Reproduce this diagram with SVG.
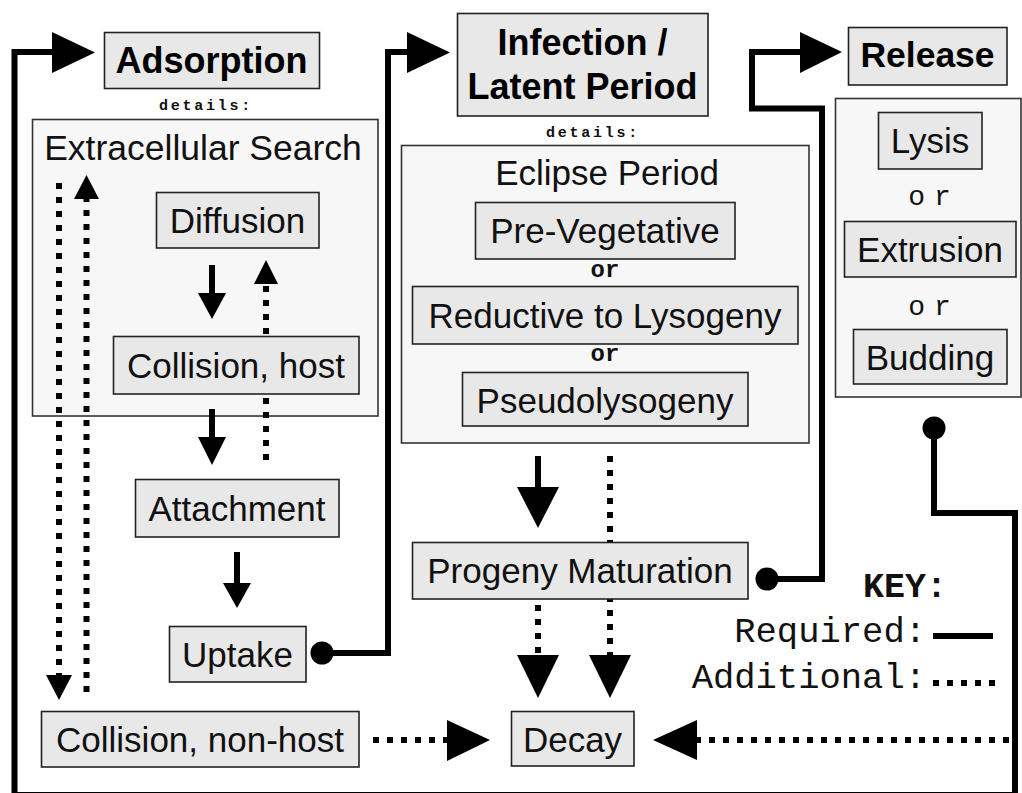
<svg xmlns="http://www.w3.org/2000/svg" width="1022" height="793" viewBox="0 0 1022 793">
<style>
.node rect{fill:#e8e8e8;stroke:#222;stroke-width:1.6}
.panel{fill:#f7f7f7;stroke:#333;stroke-width:1.6}
.t{font-family:"Liberation Sans",Arial,sans-serif;font-size:35px;fill:#111;text-anchor:middle}
.b{font-family:"Liberation Sans",Arial,sans-serif;font-size:36px;font-weight:bold;fill:#000;text-anchor:middle}
.m{font-family:"Liberation Mono","Courier New",monospace;fill:#111}
.det{font-size:15px;font-weight:bold;letter-spacing:2.75px;text-anchor:middle}
.or{font-size:24px;font-weight:bold;text-anchor:middle}
.or2{font-size:28px;letter-spacing:9px;text-anchor:middle}
.req{fill:none;stroke:#000;stroke-width:6}
.add{fill:none;stroke:#000;stroke-width:6;stroke-dasharray:6 8}
.head{fill:#000}
</style>

<g id="extracellular-search">
  <rect class="panel" x="32.5" y="119.5" width="345.5" height="296.5"/>
  <text class="t" x="203" y="160" style="font-size:35.5px">Extracellular Search</text>
</g>
<g id="eclipse-period">
  <rect class="panel" x="401.5" y="145.5" width="407.5" height="297.5"/>
  <text class="t" x="607" y="185">Eclipse Period</text>
</g>
<g id="release-details">
  <rect class="panel" x="835.5" y="98.5" width="185.5" height="298.5"/>
</g>

<g id="connectors">
  <!-- cycle loop: Release -> Adsorption -->
  <path class="req" d="M934,428 V513 H1015 V795 H14.5 V52 H54"/>
  <polygon class="head" points="52,32 95,52.5 52,73"/>
  <circle cx="934" cy="428" r="11.5" fill="#000"/>
  <!-- Uptake -> Infection -->
  <path class="req" d="M322,653 H388 V52 H409"/>
  <polygon class="head" points="407,32 450,52.5 407,73"/>
  <circle cx="322" cy="653" r="11.5" fill="#000"/>
  <!-- Progeny -> Release -->
  <path class="req" d="M767,579 H822 V108.5 H752 V52 H802"/>
  <polygon class="head" points="800,32 842,52 800,73"/>
  <circle cx="767" cy="579" r="11.5" fill="#000"/>
  <!-- Diffusion -> Collision host -->
  <path class="req" d="M212,265 V295"/>
  <polygon class="head" points="198,293 226,293 212,319"/>
  <!-- Collision host -> Attachment -->
  <path class="req" d="M212,409 V439"/>
  <polygon class="head" points="198,437 226,437 212,465"/>
  <!-- Attachment -> Uptake -->
  <path class="req" d="M237,552 V585"/>
  <polygon class="head" points="223,583 251,583 237,608"/>
  <!-- Eclipse -> Progeny -->
  <path class="req" d="M538,456 V489"/>
  <polygon class="head" points="517,487 559,487 538,528"/>
  <!-- Collision host -> Diffusion (additional) -->
  <path class="add" d="M266,460 V283"/>
  <polygon class="head" points="254,284 278,284 266,260"/>
  <!-- left dotted down -->
  <path class="add" d="M59,183 V675"/>
  <polygon class="head" points="46,675 72,675 59,700"/>
  <!-- left dotted up -->
  <path class="add" d="M86.5,692 V198"/>
  <polygon class="head" points="74,199 99,199 86.5,175"/>
  <!-- Eclipse -> Decay (additional) -->
  <path class="add" d="M610,456 V655"/>
  <polygon class="head" points="589,655 631,655 610,698"/>
  <!-- Progeny -> Decay -->
  <path class="add" d="M538,605 V655"/>
  <polygon class="head" points="517,655 559,655 538,698"/>
  <!-- Collision non-host -> Decay -->
  <path class="add" d="M373,740 H447"/>
  <polygon class="head" points="447,720 490,740 447,761"/>
  <!-- loop -> Decay -->
  <path class="add" d="M1009,740 H695"/>
  <polygon class="head" points="697,720 653,740 697,760"/>
</g>

<g id="adsorption" class="node">
  <rect x="104.5" y="32.5" width="215" height="56"/>
  <text class="b" x="211.5" y="73">Adsorption</text>
</g>
<text class="m det" x="206" y="110">details:</text>

<g id="diffusion" class="node">
  <rect x="156.5" y="192.5" width="162.5" height="55.5"/>
  <text class="t" x="237.5" y="233">Diffusion</text>
</g>
<g id="collision-host" class="node">
  <rect x="113.5" y="336.5" width="245.5" height="57.5"/>
  <text class="t" x="236" y="378">Collision, host</text>
</g>
<g id="attachment" class="node">
  <rect x="135.5" y="479.5" width="203.5" height="57.5"/>
  <text class="t" x="237" y="521">Attachment</text>
</g>
<g id="uptake" class="node">
  <rect x="169.5" y="626.5" width="136.5" height="55.5"/>
  <text class="t" x="237.5" y="667">Uptake</text>
</g>
<g id="collision-nonhost" class="node">
  <rect x="41.5" y="711.5" width="317.5" height="55.5"/>
  <text class="t" x="200" y="752">Collision, non-host</text>
</g>

<g id="infection" class="node">
  <rect x="457.5" y="13.5" width="250.5" height="102.5"/>
  <text class="b" x="582.5" y="55">Infection /</text>
  <text class="b" x="582.5" y="99">Latent Period</text>
</g>
<text class="m det" x="593" y="137">details:</text>

<g id="pre-vegetative" class="node">
  <rect x="475.5" y="202.5" width="259.5" height="56.5"/>
  <text class="t" x="605" y="243">Pre-Vegetative</text>
</g>
<text class="m or" x="605" y="277">or</text>
<g id="reductive" class="node">
  <rect x="412.5" y="286.5" width="385.5" height="57.5"/>
  <text class="t" x="605" y="328">Reductive to Lysogeny</text>
</g>
<text class="m or" x="605" y="361">or</text>
<g id="pseudolysogeny" class="node">
  <rect x="462.5" y="372.5" width="285.5" height="53.5"/>
  <text class="t" x="605" y="413">Pseudolysogeny</text>
</g>

<g id="progeny-maturation" class="node">
  <rect x="412.5" y="542.5" width="335.5" height="56.5"/>
  <text class="t" x="580" y="583">Progeny Maturation</text>
</g>
<g id="decay" class="node">
  <rect x="511.5" y="711.5" width="122.5" height="54.5"/>
  <text class="t" x="572.5" y="752">Decay</text>
</g>

<g id="release" class="node">
  <rect x="848.5" y="27.5" width="158.5" height="57.5"/>
  <text class="b" x="927.5" y="67" style="font-size:35.5px">Release</text>
</g>
<g id="lysis" class="node">
  <rect x="878.5" y="112.5" width="103.5" height="56.5"/>
  <text class="t" x="930" y="153">Lysis</text>
</g>
<text class="m or2" x="934" y="205">or</text>
<g id="extrusion" class="node">
  <rect x="844.5" y="221.5" width="171.5" height="55.5"/>
  <text class="t" x="930" y="262">Extrusion</text>
</g>
<text class="m or2" x="934" y="315">or</text>
<g id="budding" class="node">
  <rect x="853.5" y="329.5" width="153.5" height="54.5"/>
  <text class="t" x="930" y="370">Budding</text>
</g>

<g id="key">
  <text class="m" x="947" y="597" style="font-size:35px;font-weight:bold;text-anchor:end">KEY:</text>
  <text class="m" x="926" y="642" style="font-size:35.5px;text-anchor:end">Required:</text>
  <text class="m" x="926" y="688" style="font-size:35.5px;text-anchor:end">Additional:</text>
  <path class="req" d="M933,636 H993"/>
  <path class="add" d="M933,683 H995"/>
</g>
</svg>
